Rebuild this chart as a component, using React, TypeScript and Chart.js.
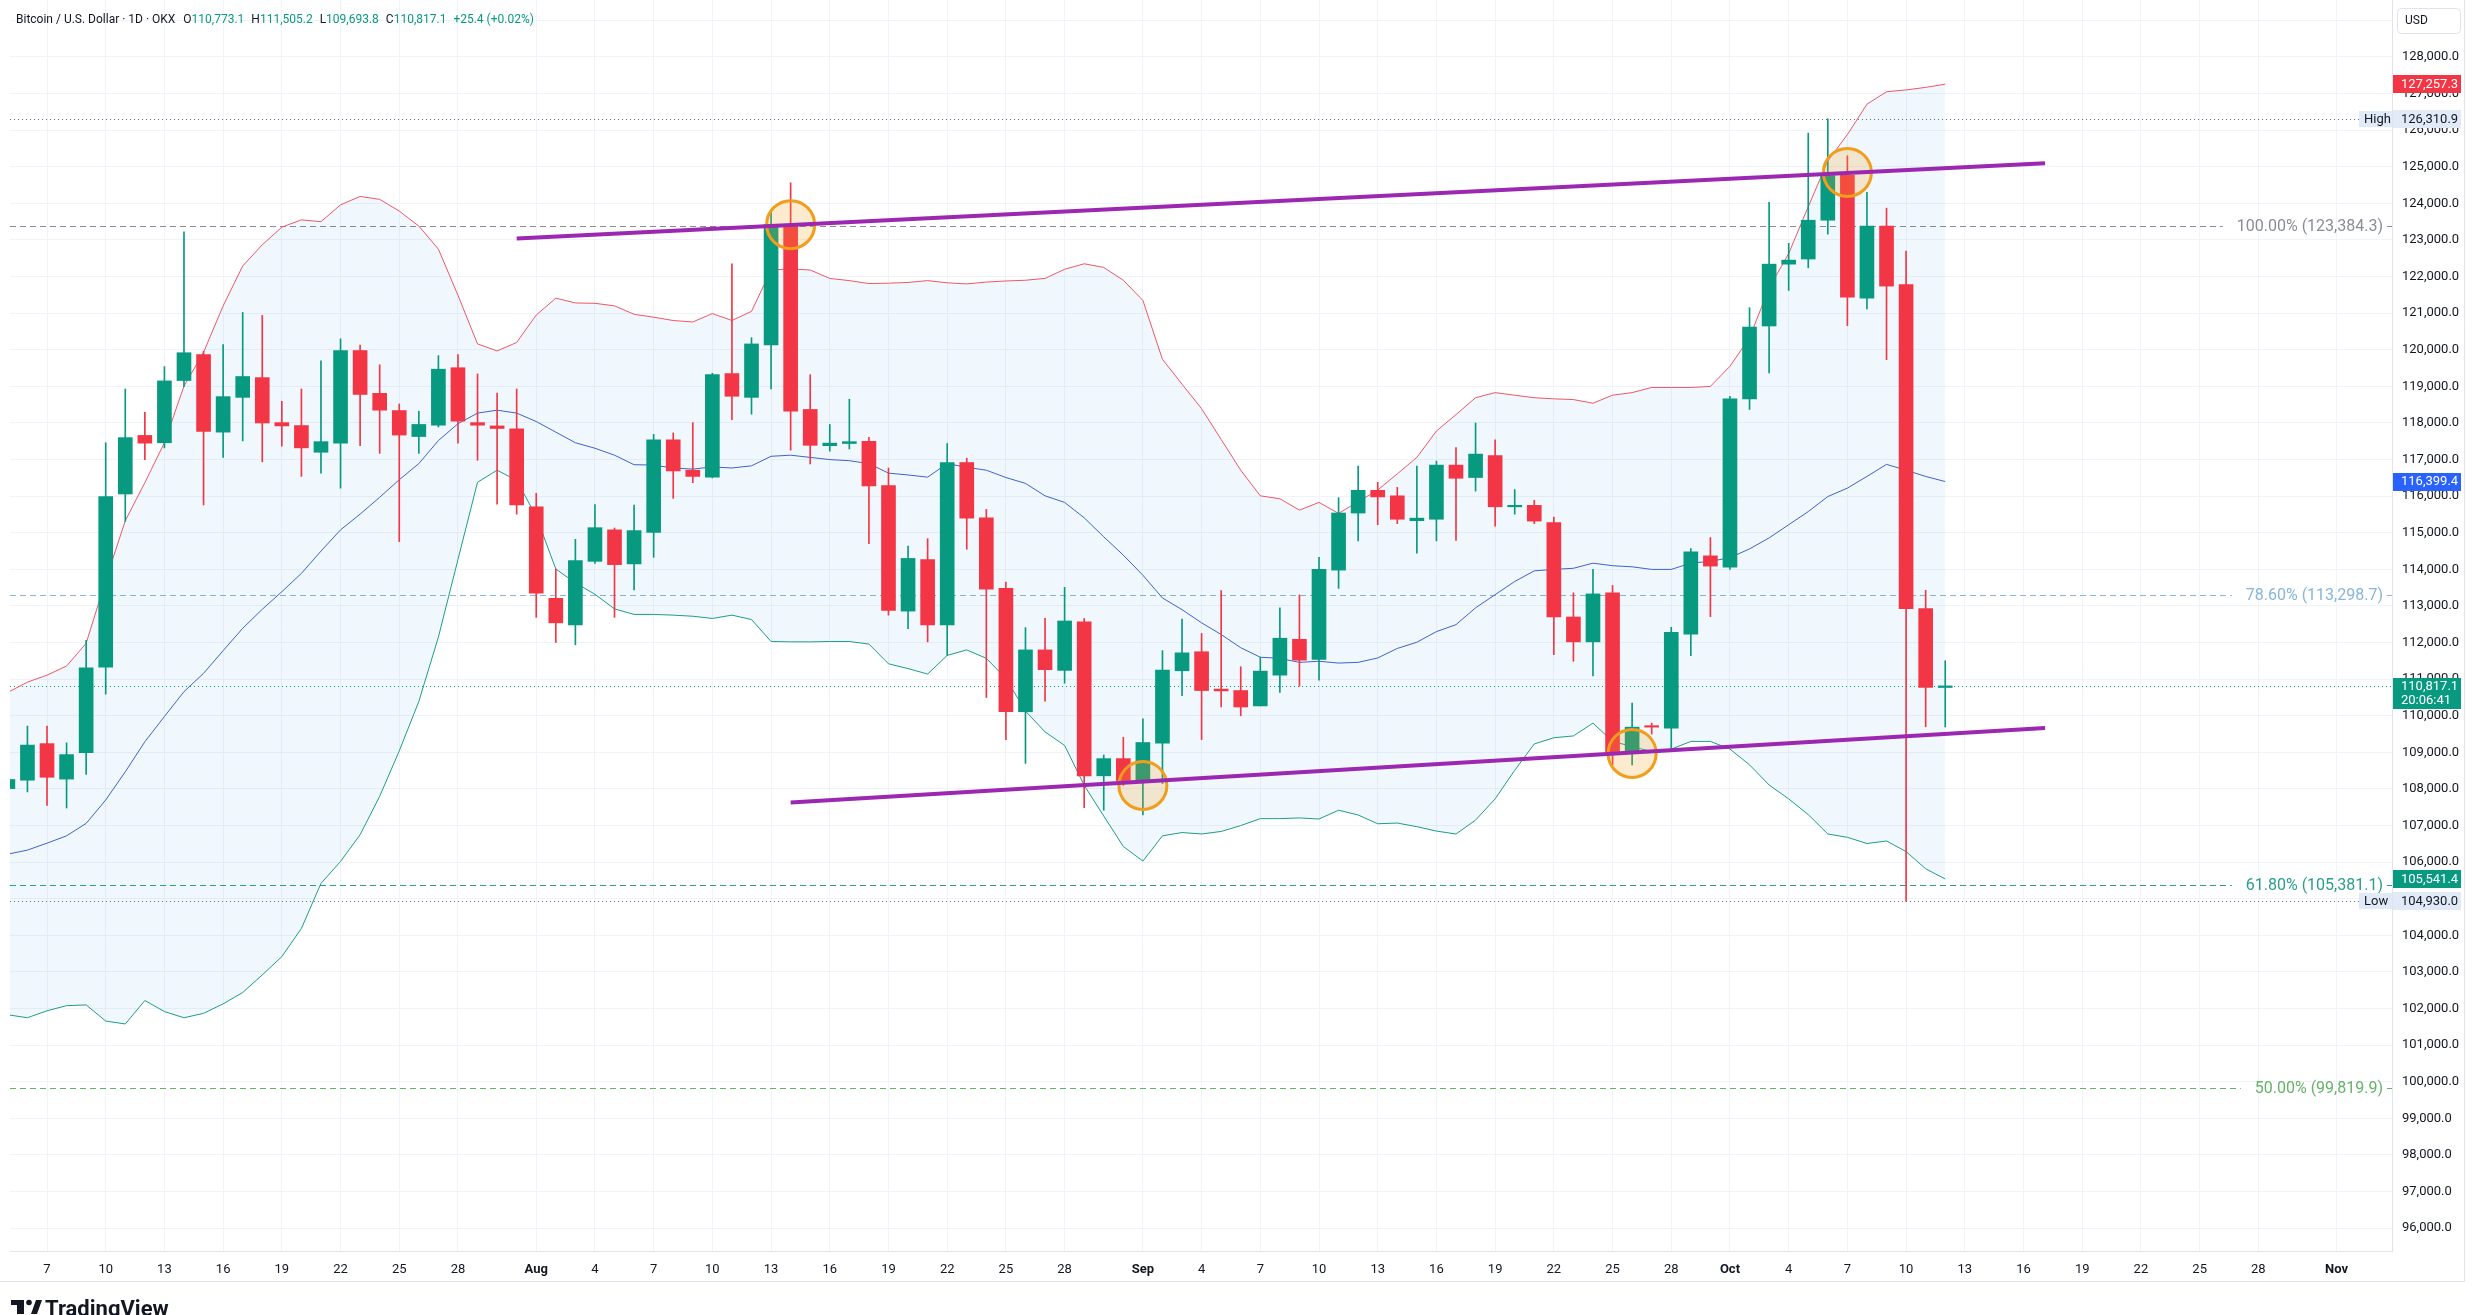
import React, { useEffect, useRef } from 'react';
import { Chart, registerables } from 'chart.js';

Chart.register(...registerables);

// Day index 0 = Jul 7 2025; first candle Jul 5 (index -2), last Oct 12 (index 97)
const FIRST_DAY = -2;

const OPEN = [
  108010, 108240, 109240, 108270, 108990, 111330, 116060, 117660, 117460, 119160,
  119870, 117750, 118700, 119240, 118010, 117930, 117200, 117450, 119980, 118810,
  118340, 117630, 117940, 119510, 118010, 117920, 117840,
  115710, 113210, 112480, 114220, 115080, 114150, 115010, 117540, 116710, 116520,
  119350, 118700, 120130, 123420, 118370, 117380, 117440, 117500, 116290, 112860,
  114270, 112480, 116920, 115410, 113480, 110110, 111800, 111240, 112570, 108360,
  108830,
  108220, 109250, 111230, 111750, 110730, 110690, 110270, 111110, 112090, 111540,
  113980, 115540, 116160, 116010, 115330, 115370, 116850, 116510, 117110, 115710,
  115750, 115280, 112700, 112020, 113360, 109010, 109730, 109660, 112230, 114370,
  114060, 118660, 120650, 122340, 122480, 123540, 124770, 121410, 123380, 121780, 112930, 110773.1,
];
const HIGH = [
  108400, 109720, 109720, 109260, 112060, 117460, 118930, 118290, 119540, 123220,
  119960, 120140, 121020, 120940, 118590, 118930, 119700, 120300, 120130, 119590,
  118520, 118320, 119840, 119870, 119340, 118820, 118930,
  116080, 114010, 114820, 115770, 115130, 115760, 117690, 117730, 118010, 119360,
  122350, 120330, 123790, 124560, 119320, 117960, 118650, 117610, 116770, 114640,
  114840, 117440, 117040, 115640, 113650, 112410, 112660, 113510, 112660, 108930,
  109410,
  109920, 111780, 112640, 112250, 113420, 111340, 111600, 112950, 113300, 114330,
  115960, 116820, 116380, 116240, 116820, 116960, 117330, 118000, 117540, 116180,
  115890, 115430, 113360, 114000, 113560, 110350, 109800, 112420, 114570, 114870,
  118730, 121150, 124030, 122910, 125920, 126310.9, 125300, 124300, 123870, 122700, 113430, 111505.2,
];
const LOW = [
  107900, 107920, 107550, 107480, 108400, 110590, 115310, 117000, 117320, 118990,
  115760, 117060, 117510, 116940, 117370, 116540, 116630, 116220, 117380, 117170,
  114760, 117170, 117890, 117450, 116980, 115780, 115510,
  112690, 112000, 111940, 114160, 112690, 113440, 114330, 115940, 116370, 116500,
  118090, 118240, 118930, 117260, 116880, 117230, 117290, 114700, 112750, 112380,
  112020, 111650, 114550, 110500, 109350, 108700, 110400, 110890, 107490, 107420,
  108100,
  107290, 108150, 110550, 109350, 110240, 110000, 110270, 110640, 110810, 110970,
  113480, 114780, 115220, 115250, 114440, 114780, 114790, 116140, 115180, 115510,
  115250, 111670, 111490, 111090, 108660, 108660, 109500, 109100, 111640, 112710,
  114000, 118370, 119370, 121620, 122240, 123160, 120660, 121120, 119730, 104930, 109700, 109693.8,
];
const CLOSE = [
  108260, 109200, 108320, 108940, 111310, 115990, 117600, 117450, 119150, 119920,
  117770, 118720, 119270, 118000, 117920, 117320, 117490, 119980, 118780, 118350,
  117670, 117960, 119470, 118050, 117940, 117850, 115760,
  113350, 112540, 114240, 115140, 114130, 115060, 117540, 116690, 116540, 119320,
  118730, 120160, 123420, 118320, 117390, 117450, 117490, 116280, 112880, 114300,
  112480, 116920, 115400, 113460, 110110, 111800, 111260, 112590, 108360, 108830,
  108230,
  109270, 111250, 111720, 110690, 110680, 110240, 111220, 112120, 111520, 114000,
  115540, 116160, 115980, 115370, 115400, 116850, 116490, 117150, 115710, 115750,
  115320, 112700, 112020, 113330, 109010, 109690, 109690, 112280, 114480, 114090,
  118660, 120620, 122340, 122450, 123540, 124760, 121440, 123380, 121740, 112930, 110777, 110817.1,
];

const BB_UPPER = [
  110640, 110920, 111110, 111360, 111980, 113700, 115330, 116370, 117460, 119010,
  119930, 121200, 122290, 122870, 123350, 123550, 123500, 123960, 124190, 124110,
  123790, 123380, 122750, 121490, 120160, 119970, 120200,
  120950, 121410, 121280, 121270, 121200, 120970, 120890, 120800, 120760, 120990,
  120800, 121050, 122180, 122210, 122180, 121950, 121890, 121810, 121820, 121840,
  121890, 121830, 121800, 121850, 121880, 121900, 121950, 122200, 122350, 122250,
  121900,
  121350, 119740, 119060, 118390, 117550, 116710, 116010, 115930, 115620, 115830,
  115530, 115850, 116170, 116610, 117060, 117780, 118230, 118690, 118830, 118760,
  118690, 118660, 118640, 118540, 118760, 118830, 118970, 118970, 118970, 119000,
  119550, 120330, 121690, 122630, 123910, 125160, 125880, 126710, 127050, 127100, 127170, 127257.3,
];
const BB_BASIS = [
  106220, 106330, 106520, 106720, 107060, 107700, 108470, 109290, 109980, 110660,
  111160, 111780, 112390, 112910, 113390, 113890, 114500, 115080, 115510, 115970,
  116450, 116890, 117520, 117980, 118270, 118350, 118270,
  118040, 117750, 117460, 117310, 117120, 116860, 116850, 116770, 116740, 116800,
  116770, 116830, 117090, 117120, 117060, 117000, 116970, 116890, 116630, 116580,
  116520, 116890, 116790, 116710, 116510, 116350, 116010, 115830, 115410, 114890,
  114390,
  113840, 113220, 112900, 112540, 112220, 111860, 111600, 111570, 111460, 111490,
  111440, 111460, 111580, 111840, 112010, 112300, 112490, 112950, 113310, 113670,
  113960, 114000, 114030, 114170, 114100, 114070, 114000, 114000, 114170, 114220,
  114320, 114560, 114860, 115220, 115580, 115990, 116220, 116540, 116870, 116710, 116540, 116399.4,
];
const BB_LOWER = [
  101830, 101750, 101940, 102080, 102100, 101660, 101580, 102220, 101920, 101750,
  101870, 102130, 102440, 102920, 103420, 104190, 105420, 106020, 106750, 107800,
  109040, 110390, 112150, 114270, 116380, 116710, 116430,
  115450, 114010, 113630, 113320, 112920, 112770, 112770, 112750, 112720, 112660,
  112750, 112630, 112030, 112020, 112020, 112030, 112030, 111960, 111420, 111290,
  111140, 111650, 111800, 111570, 111020, 110130, 109560, 109190, 108100, 107260,
  106430,
  106030, 106720, 106810, 106770, 106840, 107000, 107190, 107190, 107210, 107180,
  107420, 107290, 107050, 107070, 106970, 106850, 106770, 107150, 107730, 108510,
  109230, 109400, 109450, 109800, 109300, 109160, 109020, 109090, 109300, 109300,
  109090, 108660, 108110, 107730, 107300, 106770, 106680, 106510, 106580, 106290, 105820, 105541.4,
];

const TICK_DAYS = [0, 3, 6, 9, 12, 15, 18, 21, 25, 28, 31, 34, 37, 40, 43, 46, 49, 52, 56, 59, 62, 65, 68, 71, 74, 77, 80, 83, 86, 89, 92, 95, 98, 101, 104, 107, 110, 113, 117];
const TICK_LABELS = ['7', '10', '13', '16', '19', '22', '25', '28', 'Aug', '4', '7', '10', '13', '16', '19', '22', '25', '28', 'Sep', '4', '7', '10', '13', '16', '19', '22', '25', '28', 'Oct', '4', '7', '10', '13', '16', '19', '22', '25', '28', 'Nov'];
const MONTH_LABELS = ['Aug', 'Sep', 'Oct', 'Nov'];
const PRICE_TICKS = [96000, 97000, 98000, 99000, 100000, 101000, 102000, 103000, 104000, 105000, 106000, 107000, 108000, 109000, 110000, 111000, 112000, 113000, 114000, 115000, 116000, 117000, 118000, 119000, 120000, 121000, 122000, 123000, 124000, 125000, 126000, 127000, 128000, 129000];

const FIB_PRICES = [123384.3, 113298.7, 105381.1, 99819.9];
const FIB_LABELS = ['100.00% (123,384.3)', '78.60% (113,298.7)', '61.80% (105,381.1)', '50.00% (99,819.9)'];
const FIB_COLORS = ['#8a8d96', '#86b6d9', '#2a9d8f', '#66b36a'];

const TREND_UPPER_X = [24, 102.1];
const TREND_UPPER_Y = [123040, 125100];
const TREND_LOWER_X = [38, 102.1];
const TREND_LOWER_Y = [107630, 109665];

const CIRCLE_X = [38, 56, 81, 92];
const CIRCLE_Y = [123419, 108097, 108972, 124845];

const HIGH_PRICE = 126310.9;
const LOW_PRICE = 104930.0;
const LAST_PRICE = 110817.1;
const LAST_TIME = '20:06:41';

const HEADER_PARTS = ['Bitcoin / U.S. Dollar · 1D · OKX', 'O', '110,773.1', 'H', '111,505.2', 'L', '109,693.8', 'C', '110,817.1', '+25.4 (+0.02%)'];

const GREEN = '#089981';
const RED = '#f23645';
const FONT = 'Roboto, "Noto Sans", sans-serif';

const fmt = (v: number) => v.toLocaleString('en-US', { minimumFractionDigits: 1, maximumFractionDigits: 1 });

const zeroPad = (s: any) => {
  s.paddingLeft = 0;
  s.paddingRight = 0;
  s.paddingTop = 0;
  s.paddingBottom = 0;
};

const overlay = {
  id: 'overlay',
  beforeDraw(chart: any) {
    const ctx = chart.ctx;
    ctx.save();
    ctx.fillStyle = '#ffffff';
    ctx.fillRect(0, 0, chart.width, chart.height);
    ctx.restore();
  },
  beforeDatasetsDraw(chart: any) {
    const ctx = chart.ctx;
    const ca = chart.chartArea;
    const ys = chart.scales.y;
    ctx.save();
    ctx.beginPath();
    ctx.rect(ca.left, ca.top, ca.right - ca.left, ca.bottom - ca.top);
    ctx.clip();
    const dotted = (p: number, color: string) => {
      const y = Math.round(ys.getPixelForValue(p)) + 0.5;
      ctx.strokeStyle = color;
      ctx.lineWidth = 1;
      ctx.setLineDash([1, 3]);
      ctx.beginPath();
      ctx.moveTo(ca.left, y);
      ctx.lineTo(ca.right, y);
      ctx.stroke();
    };
    dotted(HIGH_PRICE, '#6a6d78');
    dotted(LOW_PRICE, '#6a6d78');
    dotted(LAST_PRICE, GREEN);
    ctx.font = `16px ${FONT}`;
    FIB_PRICES.forEach((p, i) => {
      const y = Math.round(ys.getPixelForValue(p)) + 0.5;
      const label = FIB_LABELS[i];
      const w = ctx.measureText(label).width;
      const right = ca.right - 9;
      const left = right - w;
      ctx.strokeStyle = FIB_COLORS[i];
      ctx.lineWidth = 1;
      ctx.setLineDash([6, 4]);
      ctx.beginPath();
      ctx.moveTo(ca.left, y);
      ctx.lineTo(left - 14, y);
      ctx.moveTo(right + 4, y);
      ctx.lineTo(ca.right, y);
      ctx.stroke();
      ctx.setLineDash([]);
      ctx.fillStyle = FIB_COLORS[i];
      ctx.textAlign = 'left';
      ctx.textBaseline = 'middle';
      ctx.fillText(label, left, y);
    });
    ctx.restore();
  },
  afterDraw(chart: any) {
    const ctx = chart.ctx;
    const ca = chart.chartArea;
    const ys = chart.scales.y;
    ctx.save();
    const axisX = ca.right + 1;
    const boxW = 68;
    const box = (p: number, text: string, bg: string, fg: string) => {
      const y = ys.getPixelForValue(p);
      ctx.fillStyle = bg;
      ctx.fillRect(axisX, Math.round(y - 9), boxW, 18);
      ctx.fillStyle = fg;
      ctx.font = `13px ${FONT}`;
      ctx.textAlign = 'left';
      ctx.textBaseline = 'middle';
      ctx.fillText(text, axisX + 8, y + 0.5);
    };
    const tagBox = (p: number, tag: string) => {
      const y = ys.getPixelForValue(p);
      ctx.fillStyle = '#e1ebf8';
      ctx.fillRect(ca.right - 33, Math.round(y - 8), 33, 16);
      ctx.fillStyle = '#131722';
      ctx.font = `13px ${FONT}`;
      ctx.textAlign = 'left';
      ctx.textBaseline = 'middle';
      ctx.fillText(tag, ca.right - 28, y + 0.5);
    };
    box(BB_UPPER[BB_UPPER.length - 1], fmt(BB_UPPER[BB_UPPER.length - 1]), RED, '#ffffff');
    tagBox(HIGH_PRICE, 'High');
    box(HIGH_PRICE, fmt(HIGH_PRICE), '#e1ebf8', '#131722');
    box(BB_BASIS[BB_BASIS.length - 1], fmt(BB_BASIS[BB_BASIS.length - 1]), '#2962ff', '#ffffff');
    box(BB_LOWER[BB_LOWER.length - 1], fmt(BB_LOWER[BB_LOWER.length - 1]), GREEN, '#ffffff');
    tagBox(LOW_PRICE, 'Low');
    box(LOW_PRICE, fmt(LOW_PRICE), '#e1ebf8', '#131722');
    {
      const y = ys.getPixelForValue(LAST_PRICE);
      ctx.fillStyle = GREEN;
      ctx.fillRect(axisX, Math.round(y - 8), boxW, 31);
      ctx.fillStyle = '#ffffff';
      ctx.font = `13px ${FONT}`;
      ctx.textBaseline = 'middle';
      ctx.fillText(fmt(LAST_PRICE), axisX + 8, y + 0.5);
      ctx.fillText(LAST_TIME, axisX + 8, y + 14.5);
    }
    // USD box
    ctx.fillStyle = '#ffffff';
    ctx.strokeStyle = '#e0e3eb';
    ctx.lineWidth = 1;
    ctx.beginPath();
    (ctx as any).roundRect(ca.right + 5.5, 8.5, 63, 25, 4);
    ctx.fill();
    ctx.stroke();
    ctx.fillStyle = '#131722';
    ctx.font = `12px ${FONT}`;
    ctx.textBaseline = 'middle';
    ctx.fillText('USD', ca.right + 13, 21);
    // outer frame
    ctx.strokeStyle = '#e0e3eb';
    ctx.beginPath();
    ctx.moveTo(2464.5, 0);
    ctx.lineTo(2464.5, 1282);
    ctx.moveTo(0, 1281.5);
    ctx.lineTo(2465, 1281.5);
    ctx.stroke();
    // header
    ctx.font = `12px ${FONT}`;
    ctx.textBaseline = 'middle';
    let x = 16;
    HEADER_PARTS.forEach((t, i) => {
      const isVal = i > 0 && (i % 2 === 0 || i === HEADER_PARTS.length - 1);
      ctx.fillStyle = isVal ? GREEN : '#131722';
      ctx.fillText(t, x, 20);
      x += ctx.measureText(t).width;
      if (i === 0) x += 8;
      else if (i % 2 === 0) x += 7;
    });
    // logo
    ctx.fillStyle = '#131722';
    ctx.fillRect(11, 1300, 13, 5);
    ctx.fillRect(17, 1300, 7, 14);
    ctx.beginPath();
    ctx.arc(29, 1302.5, 2.8, 0, Math.PI * 2);
    ctx.fill();
    ctx.beginPath();
    ctx.moveTo(31, 1314);
    ctx.lineTo(36, 1300);
    ctx.lineTo(42, 1300);
    ctx.lineTo(37, 1314);
    ctx.closePath();
    ctx.fill();
    ctx.font = `bold 22px ${FONT}`;
    ctx.textBaseline = 'alphabetic';
    ctx.fillText('TradingView', 45, 1316);
    ctx.restore();
  },
};

export default function App() {
  const ref = useRef<HTMLCanvasElement | null>(null);
  useEffect(() => {
    document.body.style.margin = '0';
    const xs = OPEN.map((_, i) => FIRST_DAY + i);
    const colors = OPEN.map((o, i) => (CLOSE[i] >= o ? GREEN : RED));
    const chart = new Chart(ref.current as HTMLCanvasElement, {
      type: 'bar',
      data: {
        datasets: [
          {
            type: 'bar',
            data: xs.map((x, i) => ({ x, y: [OPEN[i], CLOSE[i]] })) as any,
            backgroundColor: colors,
            barThickness: 14,
            grouped: false,
            minBarLength: 1,
            borderWidth: 0,
            order: 0,
          } as any,
          {
            type: 'bar',
            data: xs.map((x, i) => ({ x, y: [LOW[i], HIGH[i]] })) as any,
            backgroundColor: colors,
            barThickness: 1,
            grouped: false,
            borderWidth: 0,
            order: 1,
          } as any,
          {
            type: 'line',
            data: xs.map((x, i) => ({ x, y: BB_UPPER[i] })),
            borderColor: '#ee5864',
            borderWidth: 1,
            pointRadius: 0,
            fill: false,
            tension: 0,
            order: 3,
          } as any,
          {
            type: 'line',
            data: xs.map((x, i) => ({ x, y: BB_BASIS[i] })),
            borderColor: '#3f63c9',
            borderWidth: 1,
            pointRadius: 0,
            fill: false,
            order: 3,
          } as any,
          {
            type: 'line',
            data: xs.map((x, i) => ({ x, y: BB_LOWER[i] })),
            borderColor: '#1f9c88',
            borderWidth: 1,
            pointRadius: 0,
            fill: '-2',
            backgroundColor: 'rgba(33,150,243,0.065)',
            order: 3,
          } as any,
          {
            type: 'line',
            data: CIRCLE_X.map((x, i) => ({ x, y: CIRCLE_Y[i] })),
            showLine: false,
            pointRadius: 24,
            pointBorderWidth: 3,
            pointBorderColor: '#f29d1c',
            pointBackgroundColor: 'rgba(245,166,35,0.22)',
            order: -1,
          } as any,
          {
            type: 'line',
            data: TREND_UPPER_X.map((x, i) => ({ x, y: TREND_UPPER_Y[i] })),
            borderColor: '#9c27b0',
            borderWidth: 4,
            pointRadius: 0,
            order: -2,
          } as any,
          {
            type: 'line',
            data: TREND_LOWER_X.map((x, i) => ({ x, y: TREND_LOWER_Y[i] })),
            borderColor: '#9c27b0',
            borderWidth: 4,
            pointRadius: 0,
            order: -2,
          } as any,
        ],
      },
      options: {
        animation: false,
        responsive: false,
        devicePixelRatio: 1,
        events: [],
        layout: { autoPadding: false, padding: { left: 10, right: 0, top: 0, bottom: 0 } },
        plugins: { legend: { display: false }, tooltip: { enabled: false } },
        scales: {
          x: {
            type: 'linear',
            min: -1.891,
            max: 119.83,
            offset: false,
            grid: { color: '#f0f3fa', drawTicks: false, offset: false },
            border: { display: true, color: '#e0e3eb' },
            afterBuildTicks: (s: any) => {
              s.ticks = TICK_DAYS.map((v) => ({ value: v }));
            },
            afterFit: (s: any) => {
              s.height = 64;
              zeroPad(s);
            },
            ticks: {
              autoSkip: false,
              maxRotation: 0,
              padding: 11,
              color: '#131722',
              font: (c: any) => ({
                family: FONT,
                size: 13,
                weight: MONTH_LABELS.includes(TICK_LABELS[c.index]) ? 'bold' : 'normal',
              }),
              callback: (_v: any, i: number) => TICK_LABELS[i],
            },
          } as any,
          y: {
            type: 'linear',
            position: 'right',
            min: 95377,
            max: 129557,
            grid: { color: '#f0f3fa', drawTicks: false },
            border: { display: true, color: '#e0e3eb' },
            afterBuildTicks: (s: any) => {
              s.ticks = PRICE_TICKS.map((v) => ({ value: v }));
            },
            afterFit: (s: any) => {
              s.width = 83;
              zeroPad(s);
            },
            ticks: {
              autoSkip: false,
              padding: 10,
              color: '#131722',
              font: { family: FONT, size: 13 },
              callback: (v: any) => (v > 128000 ? '' : fmt(Number(v))),
            },
          } as any,
        },
      },
      plugins: [overlay],
    });
    return () => chart.destroy();
  }, []);
  return (
    <canvas
      ref={ref}
      width={2475}
      height={1315}
      style={{ display: 'block', width: 2475, height: 1315 }}
    />
  );
}
